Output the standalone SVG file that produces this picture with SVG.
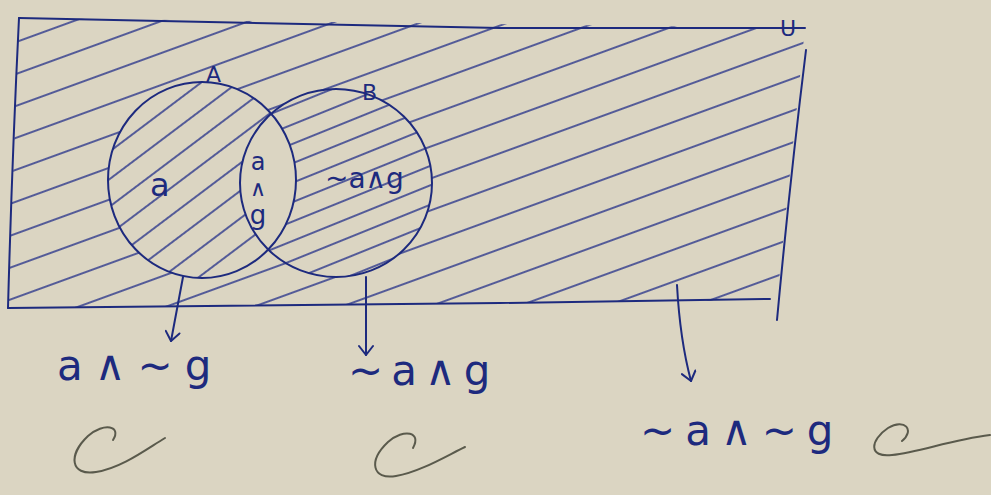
<svg xmlns="http://www.w3.org/2000/svg" width="991" height="495" viewBox="0 0 991 495">
<style>
.ink{fill:none;stroke:#1d2a7e;stroke-width:2;stroke-linecap:round;stroke-linejoin:round}
.hl{stroke:#26328a;stroke-width:1.6}
.lbl{font-family:"DejaVu Sans",sans-serif;fill:#1d2a7e}
.pen{fill:none;stroke:#5a5a4c;stroke-width:2;stroke-linecap:round}
.paper{fill:#dbd5c2}
</style>
<defs>
<pattern id="hOut" patternUnits="userSpaceOnUse" width="60" height="30" patternTransform="rotate(-20)">
<line class="hl" x1="0" y1="15" x2="60" y2="15"/>
</pattern>
<pattern id="hA" patternUnits="userSpaceOnUse" width="60" height="22" patternTransform="rotate(-37)">
<line class="hl" x1="0" y1="11" x2="60" y2="11"/>
</pattern>
<pattern id="hB" patternUnits="userSpaceOnUse" width="60" height="18" patternTransform="rotate(-22)">
<line class="hl" x1="0" y1="9" x2="60" y2="9"/>
</pattern>
<clipPath id="clipA"><ellipse cx="202" cy="180" rx="94" ry="98"/></clipPath>
<marker id="arr" markerWidth="16" markerHeight="16" refX="14" refY="8" orient="auto" markerUnits="userSpaceOnUse" viewBox="0 0 16 16">
<path d="M5 1 L14 8 L5 15" fill="none" stroke="#1d2a7e" stroke-width="2" stroke-linecap="round" stroke-linejoin="round"/>
</marker>
</defs>
<rect class="paper" width="991" height="495"/>
<g id="universe">
<path d="M19 18 L805 28 L777 300 L8 308 Z" fill="url(#hOut)" stroke="none"/>
<path class="ink" d="M19 18 Q300 24 500 28 L805 28"/>
<path class="ink" d="M806 50 Q790 180 777 320"/>
<path class="ink" d="M8 308 Q300 305 500 303 L770 299"/>
<path class="ink" d="M19 18 Q12 160 8 308"/>
<text class="lbl" x="780" y="36" font-size="22">U</text>
</g>
<g id="setA">
<ellipse cx="202" cy="180" rx="94" ry="98" class="paper"/>
<ellipse cx="202" cy="180" rx="94" ry="98" fill="url(#hA)"/>
<text class="lbl" x="206" y="82" font-size="22">A</text>
<text class="lbl" x="150" y="196" font-size="32">a</text>
</g>
<g id="setB">
<ellipse cx="336" cy="183" rx="96" ry="94" class="paper"/>
<ellipse cx="336" cy="183" rx="96" ry="94" fill="url(#hB)"/>
<text class="lbl" x="362" y="100" font-size="22">B</text>
<text class="lbl" x="325" y="188" font-size="28">~a∧g</text>
</g>
<g id="intersection">
<ellipse cx="336" cy="183" rx="96" ry="94" class="paper" clip-path="url(#clipA)"/>
<text class="lbl" x="258" y="170" font-size="24" text-anchor="middle">a</text>
<text class="lbl" x="258" y="196" font-size="22" text-anchor="middle">∧</text>
<text class="lbl" x="258" y="224" font-size="26" text-anchor="middle">g</text>
</g>
<g id="outlines">
<ellipse class="ink" cx="202" cy="180" rx="94" ry="98"/>
<ellipse class="ink" cx="336" cy="183" rx="96" ry="94"/>
</g>
<g id="connectors">
<path class="ink" d="M183 277 L171 341" marker-end="url(#arr)"/>
<path class="ink" d="M366 277 L366 355" marker-end="url(#arr)"/>
<path class="ink" d="M677 285 Q680 340 691 381" marker-end="url(#arr)"/>
</g>
<g id="labelAnotG"><text class="lbl" x="57" y="380" font-size="42" letter-spacing="12">a∧~g</text></g>
<g id="labelNotAG"><text class="lbl" x="348" y="385" font-size="42" letter-spacing="8">~a∧g</text></g>
<g id="labelNotANotG"><text class="lbl" x="640" y="445" font-size="42" letter-spacing="10">~a∧~g</text></g>
<g id="marks">
<path class="pen" d="M113 440 C122 426 104 422 88 436 C68 455 70 476 96 472 C122 468 148 448 165 438"/>
<path class="pen" d="M413 448 C422 432 404 428 388 442 C368 461 372 480 396 476 C420 472 448 455 465 447"/>
<path class="pen" d="M902 441 C915 430 905 418 888 428 C870 440 868 458 892 455 C920 452 950 440 990 435"/>
</g>
</svg>
